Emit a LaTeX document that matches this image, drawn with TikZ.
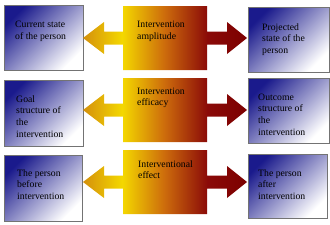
\documentclass[tikz,border=0pt]{standalone}
\usepackage{fontspec}
\setmainfont{Liberation Serif}
\definecolor{boxblue}{HTML}{1A1A8C}
\definecolor{armgold}{HTML}{D4900C}
\definecolor{armyellow}{HTML}{F4D800}
\definecolor{armorange}{HTML}{CC6A0C}
\definecolor{armred}{HTML}{8A0A08}
\definecolor{armdark}{HTML}{7C0000}
\pgfdeclarehorizontalshading{armshade}{100bp}{color(0bp)=(armgold); color(25bp)=(armgold); color(37bp)=(armyellow); color(50bp)=(armorange); color(63bp)=(armred); color(75bp)=(armdark); color(100bp)=(armdark)}
\newcommand{\boxlines}[1]{\begin{tabular}[t]{@{}l@{}}#1\end{tabular}}
\tikzset{
  personbox/.style={draw=black!55, line width=0.5pt, top color=boxblue, bottom color=white, shading angle=45},
  armfill/.style={shading=armshade},
  lbl/.style={anchor=base west, inner sep=0pt, font=\fontsize{8.3}{10}\selectfont}
}
\begin{document}
\begin{tikzpicture}[x=0.03cm,y=-0.03cm]
\useasboundingbox (0,0) rectangle (330,225);
% person / structure boxes
\shadedraw[personbox] (4,5) rectangle (83,70);
\shadedraw[personbox] (4,80) rectangle (83,146);
\shadedraw[personbox] (4,155) rectangle (82,221);
\shadedraw[personbox] (248,7) rectangle (329,72);
\shadedraw[personbox] (248,78) rectangle (329,143);
\shadedraw[personbox] (248,154) rectangle (327,218);

% double arrows
\foreach \c in {38,110,182} {
  \shade[armfill] (83,\c) -- (104,\c-16) -- (104,\c-6.5) -- (123,\c-6.5) -- (123,\c-32)
    -- (207,\c-32) -- (207,\c-6.5) -- (227,\c-6.5) -- (227,\c-16) -- (247,\c)
    -- (227,\c+16) -- (227,\c+6.5) -- (207,\c+6.5) -- (207,\c+32) -- (123,\c+32)
    -- (123,\c+6.5) -- (104,\c+6.5) -- (104,\c+16) -- cycle;
}

\node[lbl] (current) at (15,28) {\boxlines{Current state\\of the person}};
\node[lbl] (amplitude) at (137,28) {\boxlines{Intervention\\amplitude}};
\node[lbl] (projected) at (262,30) {\boxlines{Projected\\state of the\\person}};

\node[lbl] (goal) at (16,102) {\boxlines{Goal\\structure of\\the\\intervention}};
\node[lbl] (efficacy) at (137,94) {\boxlines{Intervention\\efficacy}};
\node[lbl] (outcome) at (258,100) {\boxlines{Outcome\\structure of\\the\\intervention}};

\node[lbl] (before) at (17,176) {\boxlines{The person\\before\\intervention}};
\node[lbl] (effect) at (138,167) {\boxlines{Interventional\\effect}};
\node[lbl] (after) at (258,176) {\boxlines{The person\\after\\intervention}};
\end{tikzpicture}
\end{document}
